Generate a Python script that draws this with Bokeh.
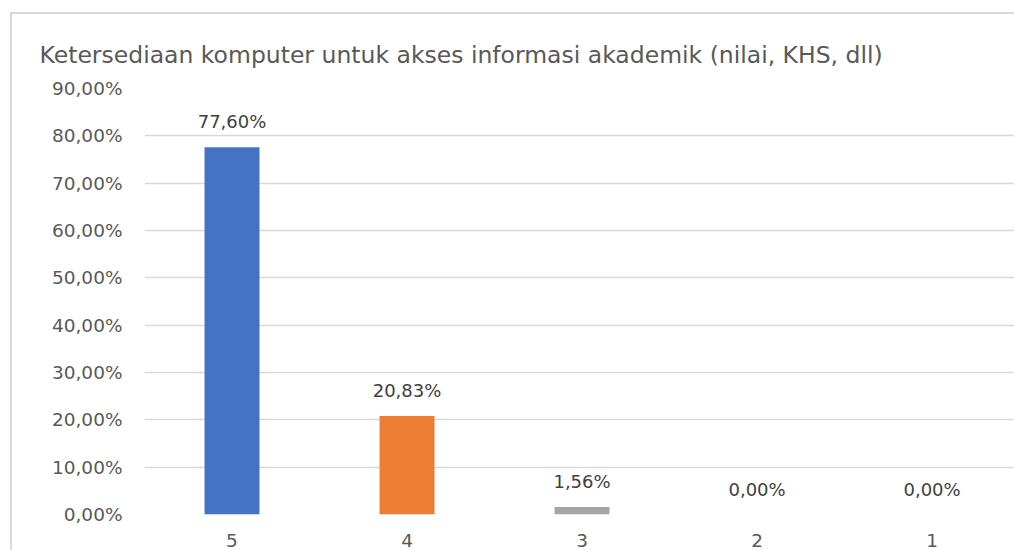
import numpy as np
from bokeh.plotting import figure
from bokeh.models import ColumnDataSource, FixedTicker, Range1d, LabelSet
from bokeh.core.properties import value
from bokeh.embed import file_html
from bokeh.resources import INLINE

categories = ["5", "4", "3", "2", "1"]
values = [77.60, 20.83, 1.56, 0.00, 0.00]
bar_colors = ["#4472C4", "#ED7D31", "#A5A5A5", "#FFC000", "#5B9BD5"]
value_labels = ["77,60%", "20,83%", "1,56%", "0,00%", "0,00%"]
y_ticks = [0, 10, 20, 30, 40, 50, 60, 70, 80, 90]
y_tick_labels = ["0,00%", "10,00%", "20,00%", "30,00%", "40,00%",
                 "50,00%", "60,00%", "70,00%", "80,00%", "90,00%"]
title_text = "Ketersediaan komputer untuk akses informasi akademik (nilai, KHS, dll)"

xpos = np.arange(1, len(categories) + 1)
src = ColumnDataSource(dict(x=xpos, top=values, color=bar_colors, label=value_labels))

FONT = "DejaVu Sans"
p = figure(width=1014, height=550, output_backend="svg", toolbar_location=None,
           x_range=Range1d(0.5, 5.471), y_range=Range1d(0, 90),
           min_border_left=144, min_border_right=0, min_border_top=88, min_border_bottom=36,
           title=title_text)
p.title.text_font = FONT
p.title.text_font_size = "23.5px"
p.title.text_font_style = "normal"
p.title.text_color = "#595959"
p.title.align = "left"
p.title.offset = -105
p.title.standoff = 40

p.vbar(x="x", top="top", width=0.314, fill_color="color", line_color=None, source=src)

labels = LabelSet(x="x", y="top", text="label", source=src, text_align="center",
                  text_baseline="bottom", y_offset=15, text_font=value(FONT),
                  text_font_size="18px", text_color="#404040")
p.add_layout(labels)

p.yaxis.ticker = FixedTicker(ticks=y_ticks)
p.yaxis.major_label_overrides = {t: l for t, l in zip(y_ticks, y_tick_labels)}
p.xaxis.ticker = FixedTicker(ticks=list(xpos))
p.xaxis.major_label_overrides = {int(x): c for x, c in zip(xpos, categories)}
for ax in (p.xaxis, p.yaxis):
    ax.axis_line_color = None
    ax.major_tick_line_color = None
    ax.minor_tick_line_color = None
    ax.major_label_text_font = FONT
    ax.major_label_text_font_size = "18.5px"
    ax.major_label_text_color = "#595959"
p.yaxis.major_label_standoff = 16
p.xaxis.major_label_standoff = 13

p.xgrid.grid_line_color = None
p.ygrid.grid_line_color = "#D9D9D9"
p.ygrid.grid_line_width = 1.5
p.outline_line_color = None
p.border_fill_color = None
p.background_fill_color = "white"
p.styles = {
    "background": ("linear-gradient(#D9D9D9,#D9D9D9) 10px 12px / 2px 100% no-repeat, "
                   "linear-gradient(#D9D9D9,#D9D9D9) 10px 12px / 100% 2px no-repeat, white"),
}

open("out.html", "w").write(file_html(p, INLINE))
